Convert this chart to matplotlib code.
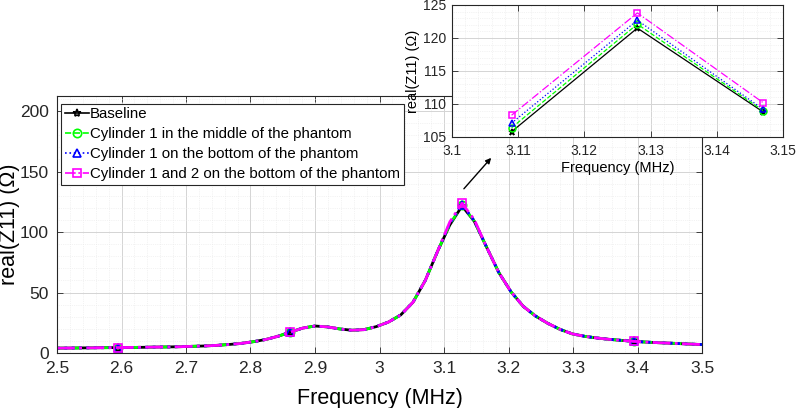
"""
Real part of Z11 versus frequency for the baseline and the three cylinder
placements, with a zoomed inset around the resonance peak.
"""
import numpy as np
import matplotlib
matplotlib.use("Agg")
import matplotlib.pyplot as plt
from matplotlib.ticker import MultipleLocator

plt.rcParams['font.family'] = ['Liberation Sans', 'DejaVu Sans']

# Sampled frequencies (MHz)
freq = [2.500, 2.519, 2.538, 2.557, 2.576, 2.595, 2.614, 2.633, 2.652, 2.671,
        2.690, 2.709, 2.728, 2.747, 2.766, 2.785, 2.804, 2.824, 2.843, 2.862,
        2.881, 2.900, 2.919, 2.938, 2.957, 2.976, 2.995, 3.014, 3.033, 3.052,
        3.071, 3.090, 3.109, 3.128, 3.147, 3.166, 3.185, 3.204, 3.223, 3.242,
        3.261, 3.280, 3.299, 3.318, 3.337, 3.356, 3.376, 3.395, 3.414, 3.433,
        3.452, 3.471, 3.490, 3.509]

# Baseline real(Z11) in ohm
baseline = [4.0, 4.1, 4.2, 4.3, 4.4, 4.5, 4.6, 4.7, 4.9, 5.0,
            5.2, 5.5, 5.8, 6.3, 7.0, 7.9, 9.3, 11.2, 13.9, 17.3,
            20.6, 22.3, 21.6, 19.9, 18.8, 19.3, 21.8, 25.6, 31.5, 42.0,
            60.0, 84.0, 105.8, 121.5, 108.8, 87.5, 66.5, 50.5, 38.5, 30.5,
            24.5, 19.5, 15.8, 13.8, 12.4, 11.3, 10.4, 9.6, 9.0, 8.5,
            8.1, 7.6, 7.2, 6.8]

# Values close to the peak, where the four cases differ (index 32..34)
peak_idx = [32, 33, 34]
baseline_peak = [105.8, 121.5, 108.8]
cyl_middle_peak = [106.4, 122.1, 109.0]
cyl_bottom_peak = [107.1, 122.7, 109.2]
cyl_both_peak = [108.3, 123.8, 110.2]

labels = ["Baseline",
          "Cylinder 1 in the middle of the phantom",
          "Cylinder 1 on the bottom of the phantom",
          "Cylinder 1 and 2 on the bottom of the phantom"]
colors = ["black", "#00ff00", "blue", "#ff00ff"]
styles = ["-", "--", ":", "-."]
markers = ["*", "o", "^", "s"]
marker_idx = [5, 19, 33, 47]


def build_series(peak_vals):
    vals = list(baseline)
    for i, v in zip(peak_idx, peak_vals):
        vals[i] = v
    return vals


series = [build_series(p) for p in
          [baseline_peak, cyl_middle_peak, cyl_bottom_peak, cyl_both_peak]]


def style_axes(ax, fs, xpad, ypad):
    ax.tick_params(which='both', direction='in', top=True, right=True,
                   labelsize=fs, width=0.6, colors='#262626')
    ax.tick_params(which='major', length=4)
    ax.tick_params(which='minor', length=0)
    ax.tick_params(axis='x', pad=xpad)
    ax.tick_params(axis='y', pad=ypad)
    ax.grid(True, which='major', color='#d4d4d4', linewidth=0.7)
    ax.grid(True, which='minor', color='#e8e8e8', linewidth=0.5, linestyle=':')
    ax.set_axisbelow(True)
    for sp in ax.spines.values():
        sp.set_color('#262626')
        sp.set_linewidth(0.8)


fig = plt.figure(figsize=(7.97, 4.08), dpi=100)

# Main axes
ax = fig.add_axes([57 / 797, 55 / 408, 645 / 797, 257 / 408])
for vals, lab, c, ls, mk in zip(series, labels, colors, styles, markers):
    ax.plot(freq, vals, color=c, linestyle=ls, linewidth=2.0, marker=mk,
            markevery=marker_idx, markersize=6, markerfacecolor='none',
            markeredgewidth=1.2, label=lab)
ax.set_xlim(2.5, 3.5)
ax.set_ylim(0, 212.4)
ax.set_yticks([0, 50, 100, 150, 200])
ax.xaxis.set_minor_locator(MultipleLocator(0.02))
ax.yaxis.set_minor_locator(MultipleLocator(10))
ax.set_xticks([2.5, 2.6, 2.7, 2.8, 2.9, 3.0, 3.1, 3.2, 3.3, 3.4, 3.5])
ax.set_xticklabels(["2.5", "2.6", "2.7", "2.8", "2.9", "3", "3.1", "3.2",
                    "3.3", "3.4", "3.5"])
style_axes(ax, 12.5, 6, 6)
ax.set_xlabel("Frequency (MHz)", fontsize=15.5)
ax.set_ylabel("real(Z11) (\u03a9)", fontsize=15.5)
ax.xaxis.set_label_coords(0.5, -0.135)
ax.yaxis.set_label_coords(-0.058, 0.5)

leg = ax.legend(loc='upper left', bbox_to_anchor=(0.006, 0.97), fontsize=10.8,
                handlelength=1.6, handletextpad=0.1, borderpad=0.25,
                labelspacing=0.4, borderaxespad=0.0, fancybox=False,
                framealpha=1.0, edgecolor='#262626')
leg.get_frame().set_linewidth(0.8)
for h in leg.legend_handles:
    h.set_linewidth(1.2)

# Arrow pointing from the peak to the inset
ax.annotate("", xy=(3.176, 163), xytext=(3.128, 134),
            arrowprops=dict(arrowstyle='-|>', color='black', lw=1.0,
                            mutation_scale=8))

# Inset around the peak
axin = fig.add_axes([452 / 797, 271 / 408, 331 / 797, 132 / 408])
axin.set_facecolor('white')
peak_freq = [freq[i] for i in peak_idx]
for pv, c, ls, mk in zip([baseline_peak, cyl_middle_peak, cyl_bottom_peak,
                          cyl_both_peak], colors, styles, markers):
    axin.plot(peak_freq, pv, color=c, linestyle=ls, linewidth=0.9, marker=mk,
              markersize=5, markerfacecolor='none', markeredgewidth=1.1)
axin.set_xlim(3.1, 3.15)
axin.set_ylim(105, 125)
axin.set_xticks([3.1, 3.11, 3.12, 3.13, 3.14, 3.15])
axin.set_xticklabels(["3.1", "3.11", "3.12", "3.13", "3.14", "3.15"])
axin.set_yticks([105, 110, 115, 120, 125])
axin.xaxis.set_minor_locator(MultipleLocator(0.002))
axin.yaxis.set_minor_locator(MultipleLocator(1))
style_axes(axin, 10, 5, 4)
axin.set_xlabel("Frequency (MHz)", fontsize=10.5, labelpad=2)
axin.set_ylabel("real(Z11) (\u03a9)", fontsize=10.5, labelpad=2)

fig.savefig("out.png", dpi=100)
